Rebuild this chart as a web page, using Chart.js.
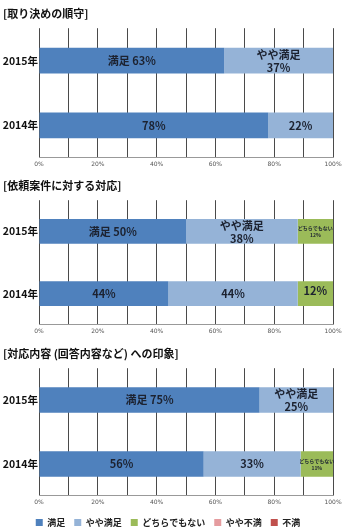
<!DOCTYPE html>
<html lang="ja">
<head>
<meta charset="utf-8">
<script src="https://cdn.jsdelivr.net/npm/chart.js@4.4.1/dist/chart.umd.min.js"></script>
<style>
  html,body{margin:0;padding:0;background:#fff;}
  body{width:350px;height:527px;position:relative;overflow:hidden;}
  .box{position:absolute;left:0;width:350px;}
</style>
</head>
<body>
<div class="box" id="b1" style="top:0;height:171px"><canvas id="c1"></canvas></div>
<div class="box" id="b2" style="top:172px;height:166px"><canvas id="c2"></canvas></div>
<div class="box" id="b3" style="top:340px;height:197px"><canvas id="c3"></canvas></div>
<script>
'use strict';
Chart.defaults.font.family = "'Noto Sans CJK JP', 'Noto Sans', sans-serif";
Chart.defaults.animation = false;

// ── DATA ────────────────────────────────────────────────────────────────────
const years = ['2015年', '2014年'];
const seriesNames = ['満足', 'やや満足', 'どちらでもない', 'やや不満', '不満'];
const xTicks = [0, 20, 40, 60, 80, 100];

// 取り決めの順守
const ruleTitle = '[取り決めの順守]';
const ruleSatisfied = [63, 78];
const ruleSomewhat = [37, 22];

// 依頼案件に対する対応
const reqTitle = '[依頼案件に対する対応]';
const reqSatisfied = [50, 44];
const reqSomewhat = [38, 44];
const reqNeutral = [12, 12];

// 対応内容 (回答内容など) への印象
const impTitle = '[対応内容 (回答内容など) への印象]';
const impSatisfied = [75, 56];
const impSomewhat = [25, 33];
const impNeutral = [0, 11];
const impSomewhatBad = [0, 0];
const impBad = [0, 0];

const COL = ['#4F81BD', '#95B3D7', '#9BBB59', '#E59C9F', '#C0504D'];

// label style per bar: 'inline' = "名前 xx%", 'stack' = name over value,
// 'small' = tiny two-line, 'lift' = value a bit above centre, 'plain' = value only
const LBL = {
  rule: [['inline', 'plain'], ['stack', 'plain']],
  req:  [['inline', 'plain'], ['stack', 'plain'], ['small', 'lift']],
  imp:  [['inline', 'plain'], ['stack', 'plain'], [null, 'small'], [null, null], [null, null]]
};

// ── BAR LABELS ──────────────────────────────────────────────────────────────
const barLabels = {
  id: 'barLabels',
  afterDatasetsDraw(chart, args, opts) {
    const ctx = chart.ctx;
    const modes = opts.modes || [];
    ctx.save();
    ctx.fillStyle = '#1c2230';
    ctx.textAlign = 'center';
    ctx.textBaseline = 'middle';
    chart.data.datasets.forEach((ds, di) => {
      const meta = chart.getDatasetMeta(di);
      meta.data.forEach((bar, i) => {
        const v = ds.data[i];
        const mode = (modes[di] || [])[i];
        if (!v || !mode) return;
        const cx = (bar.x + bar.base) / 2, cy = bar.y;
        const name = ds.label;
        ctx.font = "bold 11px 'Noto Sans CJK JP'";
        if (mode === 'inline') {
          ctx.fillText(name + ' ' + v + '%', cx, cy);
        } else if (mode === 'stack') {
          ctx.fillText(name, cx, cy - 6);
          ctx.fillText(v + '%', cx, cy + 7);
        } else if (mode === 'small') {
          ctx.font = "bold 5px 'Noto Sans CJK JP'";
          ctx.fillText(name, cx, cy - 3);
          ctx.fillText(v + '%', cx, cy + 4);
        } else if (mode === 'lift') {
          ctx.fillText(v + '%', cx, cy - 3);
        } else {
          ctx.fillText(v + '%', cx, cy);
        }
      });
    });
    ctx.restore();
  }
};

function makeChart(id, title, series, modes, withLegend) {
  const datasets = series.map((data, k) => ({
    label: seriesNames[k], data, backgroundColor: COL[k], borderWidth: 0,
    categoryPercentage: 0.4, barPercentage: 1
  }));
  return new Chart(document.getElementById(id), {
    type: 'bar',
    data: { labels: years, datasets },
    plugins: [barLabels],
    options: {
      indexAxis: 'y', responsive: true, maintainAspectRatio: false,
      layout: { padding: { left: 3, right: 17, top: 0, bottom: 0 } },
      plugins: {
        title: { display: true, text: title, align: 'start', color: '#111',
          font: { size: 11, weight: 'bold' }, padding: { top: 7, bottom: 8 } },
        legend: { display: withLegend, position: 'bottom',
          labels: { boxWidth: 7, boxHeight: 7, padding: 9, color: '#222',
            font: { size: 9, weight: 'bold' } } },
        tooltip: { enabled: false },
        barLabels: { modes }
      },
      scales: {
        x: { stacked: true, min: 0, max: 100,
          ticks: { stepSize: 10, autoSkip: false, padding: 3, color: '#555',
            font: { family: "'DejaVu Sans'", size: 6 },
            callback: v => xTicks.includes(v) ? v + '%' : '' },
          grid: { color: '#4a4a4a', lineWidth: 1, drawTicks: false },
          border: { display: true, color: '#999' } },
        y: { stacked: true,
          ticks: { color: '#111', padding: 1, font: { size: 10.5, weight: 'bold' } },
          grid: { display: false, drawTicks: false }, border: { display: false },
          afterFit: s => { s.width = 36; } }
      }
    }
  });
}

makeChart('c1', ruleTitle, [ruleSatisfied, ruleSomewhat], LBL.rule, false);
makeChart('c2', reqTitle, [reqSatisfied, reqSomewhat, reqNeutral], LBL.req, false);
makeChart('c3', impTitle, [impSatisfied, impSomewhat, impNeutral, impSomewhatBad, impBad], LBL.imp, true);
</script>
</body>
</html>
